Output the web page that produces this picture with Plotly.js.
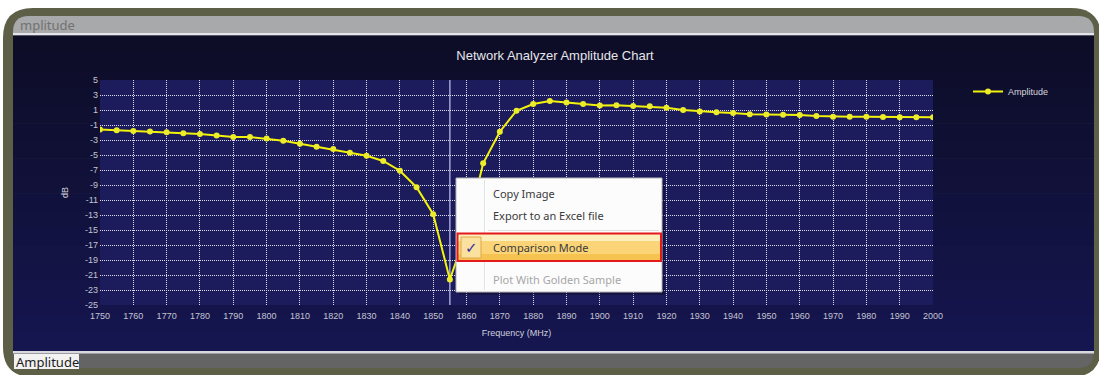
<!DOCTYPE html>
<html>
<head>
<meta charset="utf-8">
<script src="https://cdn.plot.ly/plotly-3.0.1.min.js"></script>
<style>
html,body{margin:0;padding:0;background:#fff;}
#chart{width:1099px;height:375px;}
</style>
</head>
<body>
<div id="chart"></div>
<script>
// ---- data ----
const frequencyMHz = [1750,1755,1760,1765,1770,1775,1780,1785,1790,1795,
  1800,1805,1810,1815,1820,1825,1830,1835,1840,1845,
  1850,1855,1860,1865,1870,1875,1880,1885,1890,1895,
  1900,1905,1910,1915,1920,1925,1930,1935,1940,1945,
  1950,1955,1960,1965,1970,1975,1980,1985,1990,1995,2000];
const amplitudeDb = [-1.6,-1.7,-1.8,-1.85,-1.95,-2.1,-2.2,-2.4,-2.6,-2.6,
  -2.8,-3.1,-3.5,-3.9,-4.2,-4.7,-5.1,-5.8,-7.1,-9.3,
  -12.9,-21.6,-15.2,-6.1,-1.9,0.9,1.8,2.2,2.0,1.8,
  1.6,1.65,1.55,1.5,1.3,1.0,0.8,0.7,0.6,0.45,
  0.4,0.38,0.33,0.2,0.1,0.1,0.1,0.07,0.02,0.05,0.02];
const xTickValues = [1750,1760,1770,1780,1790,1800,1810,1820,1830,1840,1850,1860,1870,1880,1890,1900,1910,1920,1930,1940,1950,1960,1970,1980,1990,2000];
const xTickLabels = ['1750','1760','1770','1780','1790','1800','1810','1820','1830','1840','1850','1860','1870','1880','1890','1900','1910','1920','1930','1940','1950','1960','1970','1980','1990','2000'];
const yTickValues = [5,3,1,-1,-3,-5,-7,-9,-11,-13,-15,-17,-19,-21,-23,-25];
const yTickLabels = ['5','3','1','-1','-3','-5','-7','-9','-11','-13','-15','-17','-19','-21','-23','-25'];
const cursorFrequency = [1855];
const seriesName = 'Amplitude';
const chartTitle = 'Network Analyzer Amplitude Chart';
const menuItems = ['Copy Image','Export to an Excel file','Comparison Mode','Plot With Golden Sample'];

// ---- layout helpers (pixel -> paper) ----
const L = 100, R = 933, T = 80, B = 305;
const px = x => (x - L) / (R - L);
const py = y => (B - y) / (B - T);
function rr(x0, y0, x1, y1, r) {
  const [tl, tr, br, bl] = Array.isArray(r) ? r : [r, r, r, r];
  return 'M' + px(x0 + tl) + ',' + py(y0) +
    ' L' + px(x1 - tr) + ',' + py(y0) +
    ' Q' + px(x1) + ',' + py(y0) + ' ' + px(x1) + ',' + py(y0 + tr) +
    ' L' + px(x1) + ',' + py(y1 - br) +
    ' Q' + px(x1) + ',' + py(y1) + ' ' + px(x1 - br) + ',' + py(y1) +
    ' L' + px(x0 + bl) + ',' + py(y1) +
    ' Q' + px(x0) + ',' + py(y1) + ' ' + px(x0) + ',' + py(y1 - bl) +
    ' L' + px(x0) + ',' + py(y0 + tl) +
    ' Q' + px(x0) + ',' + py(y0) + ' ' + px(x0 + tl) + ',' + py(y0) + ' Z';
}
function rect(x0, y0, x1, y1, fill, line, layer) {
  return {type: 'rect', xref: 'paper', yref: 'paper', layer: layer || 'below',
    x0: px(x0), x1: px(x1), y0: py(y1), y1: py(y0), fillcolor: fill,
    line: line || {width: 0}};
}
function pathShape(d, fill, layer) {
  return {type: 'path', xref: 'paper', yref: 'paper', layer: layer || 'below',
    path: d, fillcolor: fill, line: {width: 0}};
}
function lineShape(x0, y0, x1, y1, color, width, layer) {
  return {type: 'line', xref: 'paper', yref: 'paper', layer: layer || 'above',
    x0: px(x0), x1: px(x1), y0: py(y0), y1: py(y1), line: {color: color, width: width}};
}
function text(x, y, s, opts) {
  return Object.assign({xref: 'paper', yref: 'paper', x: px(x), y: py(y), text: s,
    showarrow: false, xanchor: 'left', yanchor: 'middle',
    font: {family: 'Noto Sans, Open Sans, sans-serif', size: 11, color: '#3a3a3a'}}, opts || {});
}

const shapes = [];
// window frame
shapes.push(pathShape(rr(3, 8, 1101, 377, 30), '#5d5f47'));
shapes.push(pathShape(rr(13, 16, 1094, 368, 16), '#646464'));
shapes.push(pathShape(rr(13, 16, 1094, 34, [16, 16, 0, 0]), '#a8a9aa'));
shapes.push(rect(13, 33, 1094, 35.5, '#e4e4ea'));
// navy panel gradient (bands)
const bands = 18, c0 = [13, 13, 39], c1 = [21, 21, 80];
for (let i = 0; i < bands; i++) {
  const y0 = 35.5 + (351 - 35.5) * i / bands, y1 = 35.5 + (351 - 35.5) * (i + 1) / bands + 0.6;
  const t = i / (bands - 1);
  const c = c0.map((v, k) => Math.round(v + (c1[k] - v) * t));
  shapes.push(rect(13, y0, 1094, y1, 'rgb(' + c.join(',') + ')'));
}
shapes.push(rect(13, 351, 1094, 353.5, '#d8d8de'));
shapes.push(rect(14, 354, 79, 369, '#f2f2f2'));
// plot area background
shapes.push(rect(L, T, R, B, '#1c1b5c'));
// cursor line
shapes.push({type: 'line', xref: 'x', yref: 'paper', layer: 'between',
  x0: cursorFrequency[0], x1: cursorFrequency[0], y0: 0, y1: 1,
  line: {color: '#a4a4d8', width: 1.5}});
// context menu
shapes.push(rect(459, 181, 665, 295, 'rgba(0,0,0,0.28)', null, 'above'));
shapes.push(rect(456, 178, 662, 292, '#fcfcfc', {color: '#b4b4b4', width: 1}, 'above'));
shapes.push(lineShape(484.5, 180, 484.5, 290, '#e0e1e2', 1));
shapes.push(lineShape(485.5, 180, 485.5, 290, '#ffffff', 1));
shapes.push(lineShape(488, 230.5, 659, 230.5, '#e0e0e0', 1));
shapes.push(rect(458, 234, 660.5, 241, '#fdeebd', null, 'above'));
shapes.push(rect(458, 241, 660.5, 254, '#fbd477', null, 'above'));
shapes.push(rect(458, 254, 660.5, 260.5, '#f6c250', null, 'above'));
shapes.push(rect(457.5, 233.5, 661, 261, 'rgba(0,0,0,0)', {color: '#e3191c', width: 2}, 'above'));
shapes.push(rect(461, 237, 481, 258, '#fbe1a0', {color: '#dca848', width: 1}, 'above'));

const annotations = [
  text(18, 24.5, 'mplitude', {font: {family: 'Noto Sans, sans-serif', size: 13, color: '#727272'}}),
  text(14, 362, 'Amplitude', {font: {family: 'Noto Sans, sans-serif', size: 13, color: '#1c1c1c'}}),
  text(491, 193.3, menuItems[0]),
  text(491, 215.8, menuItems[1]),
  text(491, 247.7, menuItems[2]),
  text(491, 279.3, menuItems[3], {font: {family: 'Noto Sans, Open Sans, sans-serif', size: 11, color: '#a6a6a6'}}),
  text(471, 247.5, '✓', {xanchor: 'center', font: {family: 'DejaVu Sans, sans-serif', size: 15, color: '#3a2f9c'}})
];

const trace = {
  type: 'scatter', mode: 'lines+markers', name: seriesName,
  x: frequencyMHz, y: amplitudeDb,
  line: {color: '#f2f20c', width: 2},
  marker: {color: '#ecec2a', size: 6},
  hoverinfo: 'skip'
};

const axisFont = {family: 'Liberation Sans, Arial, sans-serif', size: 9, color: '#c4c4d2'};
const layout = {
  width: 1099, height: 375,
  margin: {l: L, r: 1099 - R, t: T, b: 375 - B, pad: 0},
  paper_bgcolor: '#ffffff',
  plot_bgcolor: 'rgba(0,0,0,0)',
  title: {text: chartTitle, xref: 'container', x: 0.505, xanchor: 'center',
    yref: 'container', y: 1 - 55 / 375, yanchor: 'middle',
    font: {family: 'Liberation Sans, Arial, sans-serif', size: 13, color: '#e6e6e8'}},
  xaxis: {range: [1750, 2000], tickvals: xTickValues, ticktext: xTickLabels,
    showgrid: true, gridcolor: '#dcdcee', griddash: '1px,1px', gridwidth: 1,
    zeroline: false, showline: false, ticks: '', tickfont: axisFont, ticklabelstandoff: 4,
    title: {text: 'Frequency (MHz)', standoff: 9, font: {family: 'Liberation Sans, Arial, sans-serif', size: 9, color: '#d0d0da'}},
    fixedrange: true},
  yaxis: {range: [-25, 5], tickvals: yTickValues, ticktext: yTickLabels,
    showgrid: true, gridcolor: '#dcdcee', griddash: '1px,1px', gridwidth: 1,
    zeroline: false, showline: false, ticks: '', tickfont: axisFont, ticklabelstandoff: 1,
    title: {text: 'dB', standoff: 14, font: {family: 'Liberation Sans, Arial, sans-serif', size: 9, color: '#d0d0da'}},
    fixedrange: true},
  showlegend: true,
  legend: {x: px(968), xanchor: 'left', y: py(77), yanchor: 'top',
    bgcolor: 'rgba(0,0,0,0)', borderwidth: 0, itemwidth: 30,
    font: {family: 'Liberation Sans, Arial, sans-serif', size: 9, color: '#d8d8de'}},
  shapes: shapes,
  annotations: annotations,
  hovermode: false
};

Plotly.newPlot('chart', [trace], layout, {displayModeBar: false, staticPlot: true});
</script>
</body>
</html>
